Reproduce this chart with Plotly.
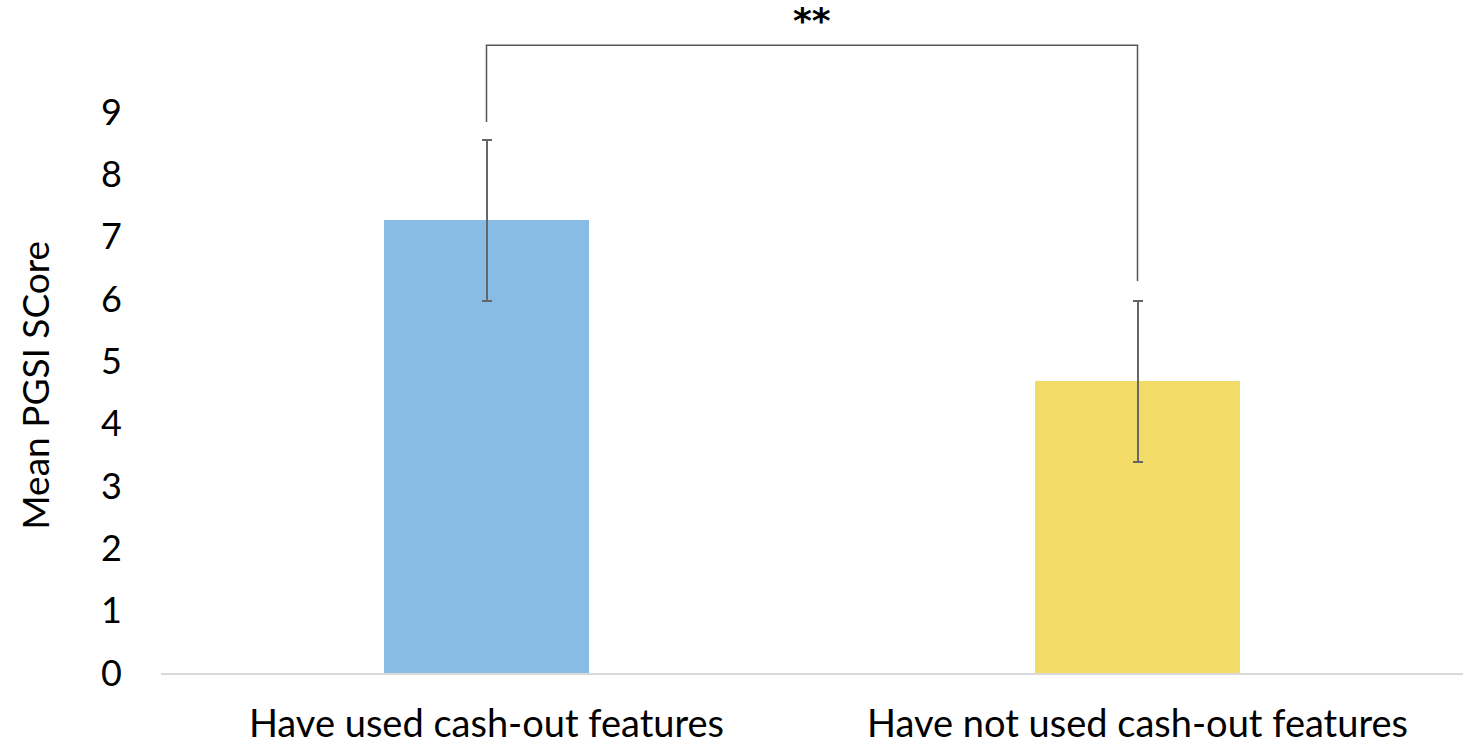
import plotly.graph_objects as go

# Mean PGSI score by cash-out feature use, with error bars
categories = ["Have used cash-out features", "Have not used cash-out features"]
means = [7.26, 4.68]
errors = [1.29, 1.29]
bar_colors = ["#86BCE5", "#F3DB67"]

# Significance bracket between the two groups
bracket_top = 10.07
bracket_left_end = 8.84
bracket_right_end = 6.29
significance = "**"

y_ticks = list(range(0, 10))
y_title = "Mean PGSI SCore"

fig = go.Figure()
fig.add_trace(go.Bar(
    x=[0, 1],
    y=means,
    width=0.316,
    marker=dict(color=bar_colors, line=dict(width=0)),
    error_y=dict(type="data", array=errors, visible=True,
                 color="#666666", thickness=2, width=5),
    showlegend=False,
    hoverinfo="skip",
))

fig.add_trace(go.Scatter(
    x=[0, 0, 1, 1],
    y=[bracket_left_end, bracket_top, bracket_top, bracket_right_end],
    mode="lines",
    line=dict(color="#555555", width=1.5),
    showlegend=False,
    hoverinfo="skip",
))

fig.add_annotation(
    x=0.5, y=bracket_top, xref="x", yref="y",
    text="<b>" + significance + "</b>",
    showarrow=False, yanchor="bottom", yshift=2,
    font=dict(size=36, color="black", family="DejaVu Sans"),
)

# Y-axis title placed as a rotated annotation
fig.add_annotation(
    x=-0.097, y=0.428, xref="paper", yref="paper",
    text=y_title, textangle=-90, showarrow=False,
    xanchor="center", yanchor="middle",
    font=dict(size=37, color="black", family="Lato"),
)

fig.update_layout(
    width=1479, height=752,
    margin=dict(l=161, r=16, t=0, b=79),
    paper_bgcolor="white", plot_bgcolor="white",
    font=dict(family="Lato", color="black"),
    bargap=0,
)
fig.update_xaxes(
    range=[-0.5, 1.5],
    tickvals=[0, 1], ticktext=categories,
    tickfont=dict(size=38, family="Lato"),
    showgrid=False, zeroline=False,
    showline=True, linecolor="#d9d9d9", linewidth=2,
    ticks="", ticklabelstandoff=16,
)
fig.update_yaxes(
    range=[0, 10.797],
    tickvals=y_ticks,
    tickfont=dict(size=36, family="Lato"),
    showgrid=False, zeroline=False, showline=False,
    ticks="", ticklabelstandoff=38,
)

fig.write_html("out.html")
